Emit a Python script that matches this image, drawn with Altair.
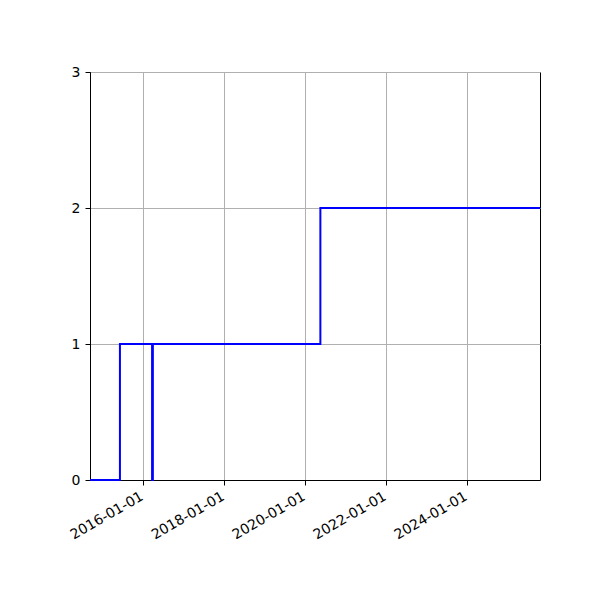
import altair as alt
import pandas as pd

dates = ["2014-09-07", "2015-06-04", "2016-03-20", "2016-03-27", "2020-05-16", "2025-10-18"]
counts = [0, 1, 0, 1, 2, 2]
tick_dates = ["2016-01-01", "2018-01-01", "2020-01-01", "2022-01-01", "2024-01-01"]
x_domain = ["2014-09-07", "2025-10-18"]

df = pd.DataFrame({"date": dates, "count": counts})

def ms(d):
    return int(pd.Timestamp(d, tz="UTC").timestamp() * 1000)

chart = alt.Chart(df).mark_line(
    interpolate="step-after", color="#0000ff", strokeWidth=2
).encode(
    x=alt.X("date:T",
            scale=alt.Scale(type="utc", domain=[ms(d) for d in x_domain], nice=False),
            axis=alt.Axis(values=[ms(d) for d in tick_dates],
                          labelExpr="utcFormat(datum.value, '%Y-%m-%d')",
                          labelAngle=-30, labelAlign="right", labelBaseline="top",
                          labelOffset=-5, labelPadding=4,
                          title=None, zindex=0)),
    y=alt.Y("count:Q",
            scale=alt.Scale(domain=[0, 3], nice=False),
            axis=alt.Axis(values=[0, 1, 2, 3], format="d", title=None, zindex=0,
                          labelPadding=5)),
).properties(
    width=450, height=408,
    autosize=alt.AutoSizeParams(type="none"),
    padding={"left": 82, "top": 64, "right": 52, "bottom": 112},
).configure_axis(
    grid=True, gridColor="#b0b0b0", gridWidth=1,
    domainColor="black", domainWidth=1,
    tickColor="black", tickSize=5, tickWidth=1,
    labelColor="black", labelFont="DejaVu Sans", labelFontSize=14,
).configure_view(
    stroke="black", strokeWidth=1
)

chart.save("out.html", embed_options={"renderer": "svg", "actions": False})
